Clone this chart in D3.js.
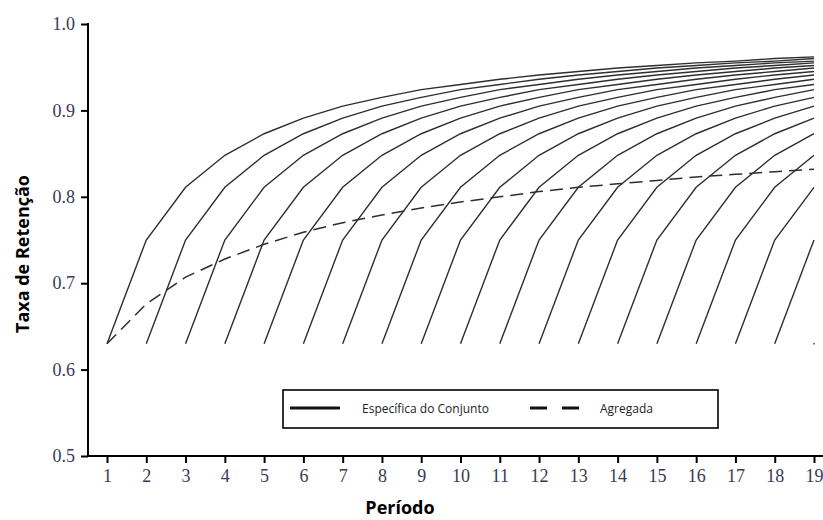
<!DOCTYPE html>
<html>
<head>
<meta charset="utf-8">
<script src="https://cdn.jsdelivr.net/npm/d3@7"></script>
<style>
  html, body { margin: 0; padding: 0; background: #fff; }
  svg { display: block; }
</style>
</head>
<body>
<svg id="chart" width="823" height="520"></svg>
<script>
// ---- data ----
const periods = [1,2,3,4,5,6,7,8,9,10,11,12,13,14,15,16,17,18,19];
const cohortStarts = [1,2,3,4,5,6,7,8,9,10,11,12,13,14,15,16,17,18,19];
// retention of a cohort by its tenure (1st period, 2nd period, ...)
const tenureRetention = [0.630,0.750,0.811,0.848,0.873,0.891,0.905,0.915,0.924,0.930,
                         0.936,0.941,0.945,0.949,0.952,0.955,0.957,0.960,0.962];
const aggregateRetention = [0.630,0.676,0.707,0.728,0.745,0.759,0.770,0.779,0.787,0.794,
                            0.800,0.806,0.811,0.815,0.819,0.823,0.826,0.829,0.832];
const yTicks = [0.5,0.6,0.7,0.8,0.9,1.0];
const xTicks = periods;
const legendLabels = ["Específica do Conjunto", "Agregada"];
const yTitle = "Taxa de Retenção";
const xTitle = "Período";

// ---- layout ----
const svg = d3.select("#chart");
const axisX0 = 88, axisRight = 823, axisTop = 24, axisBottom = 456;
const x = d3.scaleLinear().domain([1, 19]).range([107, 814]);
const y = d3.scaleLinear().domain([0.5, 1.0]).range([axisBottom, axisTop]);

const line = d3.line().x(d => x(d.p)).y(d => y(d.v));

// cohort-specific curves
const cohorts = cohortStarts.map(s => periods.filter(p => p >= s).map(p => ({p, v: tenureRetention[p - s]})));
const g = svg.append("g");
g.selectAll("path.cohort")
  .data(cohorts.filter(c => c.length > 1))
  .join("path")
  .attr("class", "cohort")
  .attr("d", line)
  .attr("fill", "none")
  .attr("stroke", "#2e2e2e")
  .attr("stroke-width", 1.4);
g.selectAll("circle.single")
  .data(cohorts.filter(c => c.length === 1))
  .join("circle")
  .attr("cx", c => x(c[0].p))
  .attr("cy", c => y(c[0].v))
  .attr("r", 0.9)
  .attr("fill", "#555");

// aggregate dashed curve
g.append("path")
  .datum(periods.map((p, i) => ({p, v: aggregateRetention[i]})))
  .attr("d", line)
  .attr("fill", "none")
  .attr("stroke", "#2e2e2e")
  .attr("stroke-width", 1.5)
  .attr("stroke-dasharray", "13,7");

// ---- axes ----
const yAxis = d3.axisLeft(y).tickValues(yTicks).tickFormat(d3.format(".1f")).tickSize(7).tickSizeOuter(0).tickPadding(6);
const ya = svg.append("g").attr("transform", `translate(${axisX0},0)`).call(yAxis);
ya.select(".domain").remove();
ya.selectAll(".tick line").attr("stroke", "#000").attr("stroke-width", 2);
ya.selectAll(".tick text")
  .attr("font-family", "'Liberation Serif', 'Times New Roman', serif")
  .attr("font-size", 18)
  .attr("fill", "#3a3a55");

const xAxis = d3.axisBottom(x).tickValues(xTicks).tickFormat(d3.format("d")).tickSize(7).tickSizeOuter(0).tickPadding(6);
const xa = svg.append("g").attr("transform", `translate(0,${axisBottom})`).call(xAxis);
xa.select(".domain").remove();
xa.selectAll(".tick line").attr("stroke", "#000").attr("stroke-width", 2);
xa.selectAll(".tick text")
  .attr("font-family", "'Liberation Serif', 'Times New Roman', serif")
  .attr("font-size", 18)
  .attr("fill", "#3a3a55");

// axis lines
svg.append("line").attr("x1", axisX0).attr("x2", axisX0).attr("y1", axisTop - 1).attr("y2", axisBottom + 1)
  .attr("stroke", "#000").attr("stroke-width", 2);
svg.append("line").attr("x1", axisX0).attr("x2", axisRight).attr("y1", axisBottom).attr("y2", axisBottom)
  .attr("stroke", "#000").attr("stroke-width", 2);

// titles
svg.append("text")
  .attr("transform", `translate(29,${(axisTop + axisBottom) / 2 + 14}) rotate(-90)`)
  .attr("text-anchor", "middle")
  .attr("font-family", "'Open Sans', sans-serif")
  .attr("font-weight", "bold")
  .attr("font-size", 18)
  .attr("fill", "#000")
  .text(yTitle);
svg.append("text")
  .attr("x", 400).attr("y", 514)
  .attr("text-anchor", "middle")
  .attr("font-family", "'Open Sans', sans-serif")
  .attr("font-weight", "bold")
  .attr("font-size", 18)
  .attr("fill", "#000")
  .text(xTitle);

// ---- legend ----
const lg = svg.append("g");
lg.append("rect").attr("x", 283).attr("y", 390).attr("width", 435).attr("height", 38)
  .attr("fill", "#fff").attr("stroke", "#000").attr("stroke-width", 1.6);
lg.append("line").attr("x1", 290).attr("x2", 340).attr("y1", 408).attr("y2", 408)
  .attr("stroke", "#111").attr("stroke-width", 3.2);
lg.append("text").attr("x", 362).attr("y", 412.5)
  .attr("font-family", "'Open Sans', sans-serif").attr("font-size", 12).attr("fill", "#222")
  .text(legendLabels[0]);
lg.append("line").attr("x1", 530).attr("x2", 580).attr("y1", 408).attr("y2", 408)
  .attr("stroke", "#111").attr("stroke-width", 3.2).attr("stroke-dasharray", "17,15");
lg.append("text").attr("x", 600).attr("y", 412.5)
  .attr("font-family", "'Open Sans', sans-serif").attr("font-size", 12).attr("fill", "#222")
  .text(legendLabels[1]);
</script>
</body>
</html>
